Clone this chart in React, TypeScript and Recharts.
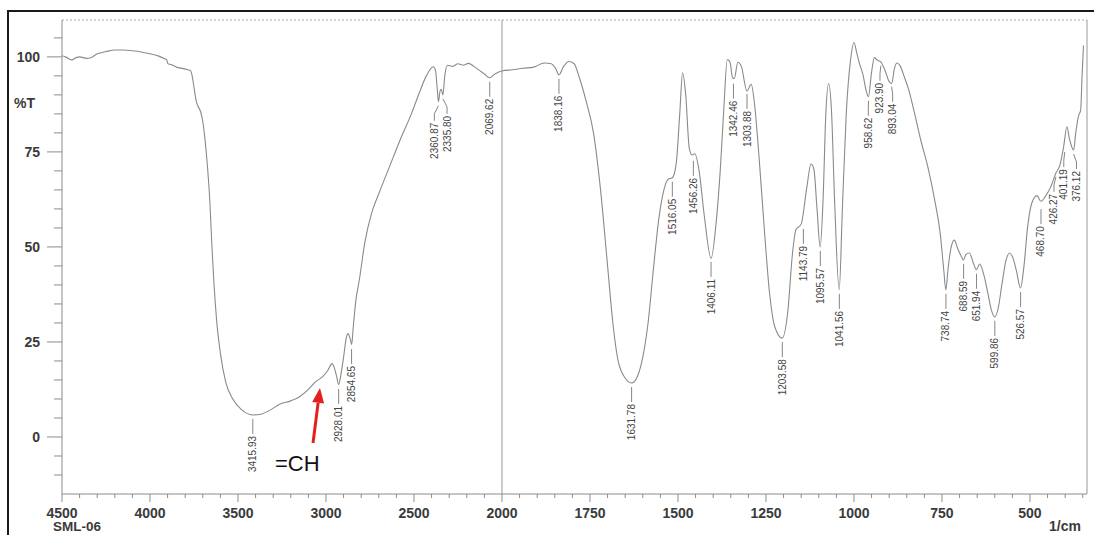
import React from "react";
import { ComposedChart, Line, Scatter, XAxis, YAxis, ReferenceLine } from "recharts";

// IR spectrum of SML-06
const curveWavenumbers = [
  4500, 4480, 4445, 4420, 4400, 4360, 4340, 4300, 4250, 4200, 4150, 4100, 4050, 4000, 3950, 3920,
  3905, 3898, 3880, 3850, 3810, 3785, 3770, 3762, 3750, 3738, 3725, 3712, 3700, 3688, 3675, 3660,
  3648, 3636, 3622, 3600, 3570, 3530, 3480, 3416, 3370, 3320, 3260, 3200, 3150, 3100, 3060, 3020,
  2990, 2965, 2950, 2940, 2928, 2915, 2900, 2885, 2875, 2862, 2854, 2845, 2830, 2810, 2780, 2740,
  2700, 2640, 2580, 2515, 2470, 2430, 2390, 2378, 2366, 2361, 2352, 2345, 2336, 2325, 2310, 2280,
  2250, 2220, 2190, 2160, 2130, 2100, 2070, 2040, 2000, 1970, 1940, 1910, 1880, 1860, 1848, 1838,
  1825, 1810, 1795, 1780, 1760, 1740, 1720, 1700, 1685, 1670, 1650, 1632, 1615, 1600, 1585, 1570,
  1555, 1540, 1528, 1516, 1505, 1495, 1487, 1478, 1468, 1460, 1452, 1440, 1425, 1406, 1392, 1380,
  1370, 1360, 1352, 1345, 1340, 1330, 1320, 1304, 1292, 1283, 1270, 1255, 1240, 1225, 1204, 1188,
  1175, 1165, 1150, 1135, 1122, 1114, 1105, 1096, 1088, 1080, 1072, 1064, 1055, 1042, 1033, 1022,
  1010, 1000, 992, 985, 975, 965, 959, 950, 942, 935, 924, 912, 900, 893, 885, 878,
  868, 858, 845, 830, 810, 790, 770, 755, 745, 739, 733, 725, 715, 705, 695, 689,
  682, 672, 660, 652, 643, 632, 620, 610, 600, 590, 580, 568, 558, 548, 538, 527,
  517, 507, 495, 480, 469, 455, 440, 426, 415, 405, 395, 388, 382, 376, 370, 362,
  356, 352, 348,
];
const curveTransmittance = [
  100.3, 100.0, 99.2, 99.8, 100.0, 99.6, 99.7, 100.8, 101.4, 101.8, 101.8, 101.6, 101.3, 100.8, 100.2, 99.6,
  99.2, 98.2, 98.0, 97.3, 96.9, 96.6, 96.4, 95.3, 92.0, 88.5, 86.8, 85.5, 83.0, 78.5, 72.0, 62.0,
  50.0, 40.0, 31.0, 22.0, 14.5, 10.0, 7.2, 5.8, 6.0, 7.0, 8.7, 9.5, 10.6, 12.5, 14.5, 15.8,
  17.5, 19.3, 17.8, 16.0, 13.8, 16.5, 21.0, 26.0, 27.2, 25.8, 24.3, 29.0, 36.0, 41.5, 51.0, 59.0,
  64.0, 71.0, 78.0, 85.0, 90.5, 95.0, 97.4, 96.5, 90.5, 88.2, 91.0, 91.5, 90.0, 95.0, 97.8, 97.5,
  98.2, 97.8, 98.3, 97.5, 96.5, 95.5, 94.5, 95.5, 96.3, 96.6, 97.0, 97.3, 98.4, 98.2, 97.0, 95.3,
  97.5, 98.8, 98.2, 94.5, 88.0, 80.0, 65.0, 45.0, 30.0, 20.0, 15.5, 14.2, 16.0, 21.0, 30.0, 44.0,
  57.0, 65.0, 67.8, 68.2, 72.0, 85.0, 95.8, 90.0, 76.0, 74.2, 74.5, 70.0, 58.0, 47.0, 56.0, 70.0,
  86.0, 99.3, 98.5, 94.5, 94.3, 98.6, 97.5, 91.0, 92.8, 88.0, 74.0, 55.0, 38.0, 29.0, 26.0, 33.0,
  48.0, 54.5, 56.0, 65.0, 71.8, 70.5, 60.0, 50.0, 62.0, 85.0, 93.0, 86.0, 62.0, 38.7, 60.0, 85.0,
  99.0, 103.8, 101.0, 98.4, 95.5, 91.0, 89.5, 96.0, 99.8, 99.2, 98.7, 96.5, 93.5, 93.0, 97.0, 98.4,
  97.5, 95.0, 91.5, 86.0, 78.0, 71.0, 62.0, 53.5, 44.0, 38.7, 44.0, 49.5, 51.8, 49.5, 47.5, 46.6,
  48.0, 48.4, 45.5, 44.0, 45.5, 43.0, 38.0, 33.5, 31.6, 34.0, 40.0, 46.5, 48.4, 47.0, 43.5, 39.2,
  45.0, 55.0, 61.5, 63.5, 62.0, 63.5, 66.0, 69.5, 71.5, 76.0, 81.6, 78.5, 76.5, 75.5, 80.0, 84.5,
  86.0, 95.0, 103.0,
];

const peakLabels = [
  "3415.93", "2928.01", "2854.65", "2360.87", "2335.80", "2069.62", "1838.16", "1631.78",
  "1516.05", "1456.26", "1406.11", "1342.46", "1303.88", "1203.58", "1143.79", "1095.57",
  "1041.56", "958.62", "923.90", "893.04", "738.74", "688.59", "651.94", "599.86",
  "526.57", "468.70", "426.27", "401.19", "376.12",
];
const peakTransmittance = [
  5.8, 13.7, 24.2, 88.2, 90.0, 94.5, 95.3, 14.2,
  68.2, 73.7, 47.1, 94.0, 91.3, 26.0, 55.8, 50.0,
  38.7, 89.5, 98.7, 93.2, 38.7, 46.6, 44.0, 31.6,
  39.2, 61.0, 69.5, 76.0, 75.5,
];

const xMajorTicks = [4500, 4000, 3500, 3000, 2500, 2000, 1750, 1500, 1250, 1000, 750, 500];
const yMajorTicks = [0, 25, 50, 75, 100];

const annotationText = "=CH";
const annotationWavenumber = 3034;
const annotationTransmittance = 12.9;

const sampleName = "SML-06";
const xUnit = "1/cm";
const yUnit = "%T";

// the recorder changes scale at 2000 1/cm: below it one unit takes twice the width
const toPos = (wn: number) => (wn >= 2000 ? (4500 - wn) / 2 : 1250 + (2000 - wn));
const fromPos = (p: number) => (p <= 1250 ? 4500 - 2 * p : 2000 - (p - 1250));

const X_MAX = 2912;
const Y_MIN = -15;
const Y_MAX = 109.7;
const PX_PER_POS = 1025 / X_MAX;

const curveData = curveWavenumbers.map((wn, i) => ({ pos: toPos(wn), t: curveTransmittance[i] }));

// spread labels that would sit on top of each other
const peakData = (() => {
  const pts = peakLabels.map((label, i) => {
    const p = toPos(parseFloat(label));
    return { pos: p, labelPos: p, t: peakTransmittance[i], label };
  });
  const minGap = 36;
  for (let i = 1; i < pts.length; i++) {
    const gap = pts[i].labelPos - pts[i - 1].labelPos;
    if (gap < minGap) {
      const push = (minGap - gap) / 2;
      pts[i - 1].labelPos -= push;
      pts[i].labelPos += push;
    }
  }
  return pts;
})();

const xTicks: number[] = [];
for (let wn = 4500; wn >= 2000; wn -= 100) xTicks.push(toPos(wn));
for (let wn = 1950; wn >= 350; wn -= 50) xTicks.push(toPos(wn));

const yTicks: number[] = [];
for (let v = -10; v <= 105; v += 5) yTicks.push(v);

const labelFont = "'Liberation Sans', Arial, sans-serif";
const axisColor = "#8c8c8c";
const textColor = "#3a3a3a";

function YTick(props: any) {
  const { x, y, payload } = props;
  const major = yMajorTicks.includes(payload.value);
  return (
    <g>
      <line x1={x - (major ? 15 : 8)} x2={x} y1={y} y2={y} stroke={axisColor} strokeWidth={1} />
      {major && (
        <text x={x - 22} y={y} dy={5} textAnchor="end" fontSize={14} fontWeight={700}
          fontFamily={labelFont} fill={textColor}>
          {payload.value}
        </text>
      )}
    </g>
  );
}

function XTick(props: any) {
  const { x, y, payload } = props;
  const wn = Math.round(fromPos(payload.value));
  const major = xMajorTicks.includes(wn);
  return (
    <g>
      <line x1={x} x2={x} y1={y} y2={y + (major ? 8 : 4)} stroke={axisColor} strokeWidth={1} />
      {major && (
        <text x={x} y={y + 24} textAnchor="middle" fontSize={14} fontWeight={700}
          fontFamily={labelFont} fill={textColor}>
          {wn}
        </text>
      )}
    </g>
  );
}

function PeakLabel(props: any) {
  const { cx, cy, payload } = props;
  const lx = cx + (payload.labelPos - payload.pos) * PX_PER_POS;
  const top = cy + 21;
  return (
    <g>
      <polyline points={`${cx},${cy + 4} ${lx},${cy + 12} ${lx},${cy + 19}`}
        fill="none" stroke="#666" strokeWidth={0.8} />
      <text x={lx} y={top} transform={`rotate(-90 ${lx} ${top})`} textAnchor="end"
        dominantBaseline="central" fontSize={10} fontFamily={labelFont} fill="#444">
        {payload.label}
      </text>
    </g>
  );
}

function ArrowNote(props: any) {
  const { cx, cy } = props;
  const tailX = cx - 7;
  const tailY = cy + 55;
  const len = Math.hypot(cx - tailX, cy - tailY);
  const dx = (cx - tailX) / len;
  const dy = (cy - tailY) / len;
  const bx = cx - dx * 15;
  const by = cy - dy * 15;
  const px = -dy * 6;
  const py = dx * 6;
  return (
    <g>
      <line x1={tailX} y1={tailY} x2={bx} y2={by} stroke="#e3201b" strokeWidth={3} />
      <polygon points={`${cx},${cy} ${bx + px},${by + py} ${bx - px},${by - py}`} fill="#e3201b" />
      <text x={cx - 45} y={cy + 83} fontSize={22} fontFamily={labelFont} fill="#111">
        {annotationText}
      </text>
    </g>
  );
}

export default function App() {
  return (
    <div style={{ position: "fixed", left: 0, top: 0, width: 1094, height: 535, background: "#fff" }}>
      <div style={{
        position: "absolute", left: 7, top: 10, width: 1087, height: 525, boxSizing: "border-box",
        borderTop: "2px solid #1a1a1a", borderLeft: "2px solid #1a1a1a",
      }} />
      <div style={{ position: "absolute", left: 0, top: 0 }}>
        <ComposedChart width={1094} height={535} margin={{ top: 20, right: 7, left: 8, bottom: 0 }}>
          <XAxis type="number" dataKey="pos" domain={[0, X_MAX]} ticks={xTicks} interval={0}
            allowDataOverflow height={41} tickSize={0} tickMargin={0} tick={<XTick />}
            axisLine={{ stroke: axisColor }} tickLine={false} />
          <YAxis type="number" domain={[Y_MIN, Y_MAX]} ticks={yTicks} interval={0}
            allowDataOverflow width={54} tickSize={0} tickMargin={0} tick={<YTick />}
            axisLine={{ stroke: axisColor }} tickLine={false} />
          <ReferenceLine y={Y_MAX} stroke="#aaa" strokeDasharray="2 2" />
          <ReferenceLine x={X_MAX} stroke="#999" />
          <ReferenceLine x={toPos(2000)} stroke="#999" />
          <Line data={curveData} dataKey="t" type="monotone" stroke="#8a8a8a" strokeWidth={1.1}
            dot={false} isAnimationActive={false} />
          <Scatter data={peakData} dataKey="t" shape={<PeakLabel />} isAnimationActive={false} />
          <Scatter data={[{ pos: toPos(annotationWavenumber), t: annotationTransmittance }]} dataKey="t"
            shape={<ArrowNote />} isAnimationActive={false} />
        </ComposedChart>
      </div>
      <span style={{ position: "absolute", left: 14, top: 95, fontSize: 14, fontWeight: 700,
        fontFamily: labelFont, color: textColor }}>{yUnit}</span>
      <span style={{ position: "absolute", left: 53, top: 519, fontSize: 13.5, fontWeight: 700,
        fontFamily: labelFont, color: textColor, lineHeight: "15px" }}>{sampleName}</span>
      <span style={{ position: "absolute", left: 1049, top: 519, fontSize: 14, fontWeight: 700,
        fontFamily: labelFont, color: textColor, lineHeight: "15px" }}>{xUnit}</span>
    </div>
  );
}
